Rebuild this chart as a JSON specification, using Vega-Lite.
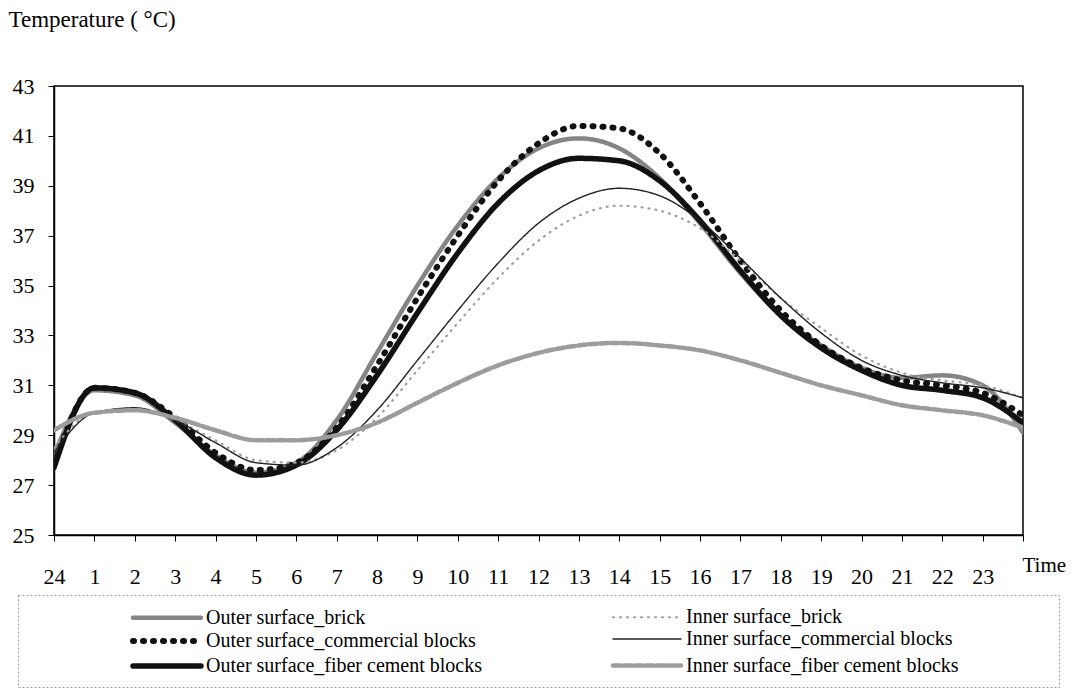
{
  "$schema": "https://vega.github.io/schema/vega-lite/v6.json",
  "width": 969,
  "height": 449,
  "autosize": {"type": "none"},
  "padding": {"left": 54, "top": 86, "right": 51, "bottom": 162},
  "background": "white",
  "config": {
    "font": "Liberation Serif",
    "view": {"stroke": "black", "strokeWidth": 1.5},
    "axis": {"grid": false, "domainColor": "black", "domainWidth": 1.5, "tickColor": "black", "labelColor": "black", "titleColor": "black", "labelFont": "Liberation Serif", "titleFont": "Liberation Serif", "labelFontSize": 22, "titleFontSize": 23, "titleFontWeight": "normal"}
  },
  "data": {"values": [
    {"h":0,"s":"Outer surface_brick","t":28.2},{"h":1,"s":"Outer surface_brick","t":30.8},{"h":2,"s":"Outer surface_brick","t":30.6},{"h":3,"s":"Outer surface_brick","t":29.5},{"h":4,"s":"Outer surface_brick","t":28.2},{"h":5,"s":"Outer surface_brick","t":27.5},{"h":6,"s":"Outer surface_brick","t":27.9},{"h":7,"s":"Outer surface_brick","t":29.6},{"h":8,"s":"Outer surface_brick","t":32.3},{"h":9,"s":"Outer surface_brick","t":35.0},{"h":10,"s":"Outer surface_brick","t":37.4},{"h":11,"s":"Outer surface_brick","t":39.3},{"h":12,"s":"Outer surface_brick","t":40.5},{"h":13,"s":"Outer surface_brick","t":40.9},{"h":14,"s":"Outer surface_brick","t":40.5},{"h":15,"s":"Outer surface_brick","t":39.3},{"h":16,"s":"Outer surface_brick","t":37.5},{"h":17,"s":"Outer surface_brick","t":35.5},{"h":18,"s":"Outer surface_brick","t":33.8},{"h":19,"s":"Outer surface_brick","t":32.6},{"h":20,"s":"Outer surface_brick","t":31.7},{"h":21,"s":"Outer surface_brick","t":31.3},{"h":22,"s":"Outer surface_brick","t":31.4},{"h":23,"s":"Outer surface_brick","t":31.0},{"h":24,"s":"Outer surface_brick","t":29.1},
    {"h":0,"s":"Outer surface_commercial blocks","t":27.8},{"h":1,"s":"Outer surface_commercial blocks","t":30.9},{"h":2,"s":"Outer surface_commercial blocks","t":30.7},{"h":3,"s":"Outer surface_commercial blocks","t":29.7},{"h":4,"s":"Outer surface_commercial blocks","t":28.3},{"h":5,"s":"Outer surface_commercial blocks","t":27.6},{"h":6,"s":"Outer surface_commercial blocks","t":27.9},{"h":7,"s":"Outer surface_commercial blocks","t":29.3},{"h":8,"s":"Outer surface_commercial blocks","t":31.8},{"h":9,"s":"Outer surface_commercial blocks","t":34.5},{"h":10,"s":"Outer surface_commercial blocks","t":37.0},{"h":11,"s":"Outer surface_commercial blocks","t":39.2},{"h":12,"s":"Outer surface_commercial blocks","t":40.7},{"h":13,"s":"Outer surface_commercial blocks","t":41.4},{"h":14,"s":"Outer surface_commercial blocks","t":41.3},{"h":15,"s":"Outer surface_commercial blocks","t":40.3},{"h":16,"s":"Outer surface_commercial blocks","t":38.3},{"h":17,"s":"Outer surface_commercial blocks","t":36.0},{"h":18,"s":"Outer surface_commercial blocks","t":34.0},{"h":19,"s":"Outer surface_commercial blocks","t":32.6},{"h":20,"s":"Outer surface_commercial blocks","t":31.7},{"h":21,"s":"Outer surface_commercial blocks","t":31.2},{"h":22,"s":"Outer surface_commercial blocks","t":31.0},{"h":23,"s":"Outer surface_commercial blocks","t":30.7},{"h":24,"s":"Outer surface_commercial blocks","t":29.8},
    {"h":0,"s":"Outer surface_fiber cement blocks","t":27.7},{"h":1,"s":"Outer surface_fiber cement blocks","t":30.9},{"h":2,"s":"Outer surface_fiber cement blocks","t":30.7},{"h":3,"s":"Outer surface_fiber cement blocks","t":29.6},{"h":4,"s":"Outer surface_fiber cement blocks","t":28.1},{"h":5,"s":"Outer surface_fiber cement blocks","t":27.4},{"h":6,"s":"Outer surface_fiber cement blocks","t":27.8},{"h":7,"s":"Outer surface_fiber cement blocks","t":29.2},{"h":8,"s":"Outer surface_fiber cement blocks","t":31.4},{"h":9,"s":"Outer surface_fiber cement blocks","t":33.9},{"h":10,"s":"Outer surface_fiber cement blocks","t":36.3},{"h":11,"s":"Outer surface_fiber cement blocks","t":38.3},{"h":12,"s":"Outer surface_fiber cement blocks","t":39.6},{"h":13,"s":"Outer surface_fiber cement blocks","t":40.1},{"h":14,"s":"Outer surface_fiber cement blocks","t":40.0},{"h":15,"s":"Outer surface_fiber cement blocks","t":39.2},{"h":16,"s":"Outer surface_fiber cement blocks","t":37.6},{"h":17,"s":"Outer surface_fiber cement blocks","t":35.6},{"h":18,"s":"Outer surface_fiber cement blocks","t":33.8},{"h":19,"s":"Outer surface_fiber cement blocks","t":32.5},{"h":20,"s":"Outer surface_fiber cement blocks","t":31.6},{"h":21,"s":"Outer surface_fiber cement blocks","t":31.0},{"h":22,"s":"Outer surface_fiber cement blocks","t":30.8},{"h":23,"s":"Outer surface_fiber cement blocks","t":30.5},{"h":24,"s":"Outer surface_fiber cement blocks","t":29.5},
    {"h":0,"s":"Inner surface_brick","t":28.5},{"h":1,"s":"Inner surface_brick","t":29.9},{"h":2,"s":"Inner surface_brick","t":30.0},{"h":3,"s":"Inner surface_brick","t":29.6},{"h":4,"s":"Inner surface_brick","t":28.8},{"h":5,"s":"Inner surface_brick","t":28.0},{"h":6,"s":"Inner surface_brick","t":27.9},{"h":7,"s":"Inner surface_brick","t":28.4},{"h":8,"s":"Inner surface_brick","t":29.7},{"h":9,"s":"Inner surface_brick","t":31.6},{"h":10,"s":"Inner surface_brick","t":33.5},{"h":11,"s":"Inner surface_brick","t":35.3},{"h":12,"s":"Inner surface_brick","t":36.8},{"h":13,"s":"Inner surface_brick","t":37.8},{"h":14,"s":"Inner surface_brick","t":38.2},{"h":15,"s":"Inner surface_brick","t":38.0},{"h":16,"s":"Inner surface_brick","t":37.3},{"h":17,"s":"Inner surface_brick","t":36.0},{"h":18,"s":"Inner surface_brick","t":34.5},{"h":19,"s":"Inner surface_brick","t":33.3},{"h":20,"s":"Inner surface_brick","t":32.2},{"h":21,"s":"Inner surface_brick","t":31.5},{"h":22,"s":"Inner surface_brick","t":31.2},{"h":23,"s":"Inner surface_brick","t":31.0},{"h":24,"s":"Inner surface_brick","t":30.5},
    {"h":0,"s":"Inner surface_commercial blocks","t":28.3},{"h":1,"s":"Inner surface_commercial blocks","t":29.9},{"h":2,"s":"Inner surface_commercial blocks","t":30.1},{"h":3,"s":"Inner surface_commercial blocks","t":29.6},{"h":4,"s":"Inner surface_commercial blocks","t":28.7},{"h":5,"s":"Inner surface_commercial blocks","t":27.9},{"h":6,"s":"Inner surface_commercial blocks","t":27.8},{"h":7,"s":"Inner surface_commercial blocks","t":28.5},{"h":8,"s":"Inner surface_commercial blocks","t":30.0},{"h":9,"s":"Inner surface_commercial blocks","t":32.0},{"h":10,"s":"Inner surface_commercial blocks","t":34.0},{"h":11,"s":"Inner surface_commercial blocks","t":35.9},{"h":12,"s":"Inner surface_commercial blocks","t":37.5},{"h":13,"s":"Inner surface_commercial blocks","t":38.5},{"h":14,"s":"Inner surface_commercial blocks","t":38.9},{"h":15,"s":"Inner surface_commercial blocks","t":38.6},{"h":16,"s":"Inner surface_commercial blocks","t":37.6},{"h":17,"s":"Inner surface_commercial blocks","t":36.1},{"h":18,"s":"Inner surface_commercial blocks","t":34.5},{"h":19,"s":"Inner surface_commercial blocks","t":33.1},{"h":20,"s":"Inner surface_commercial blocks","t":32.0},{"h":21,"s":"Inner surface_commercial blocks","t":31.4},{"h":22,"s":"Inner surface_commercial blocks","t":31.1},{"h":23,"s":"Inner surface_commercial blocks","t":30.9},{"h":24,"s":"Inner surface_commercial blocks","t":30.5},
    {"h":0,"s":"Inner surface_fiber cement blocks","t":29.2},{"h":1,"s":"Inner surface_fiber cement blocks","t":29.9},{"h":2,"s":"Inner surface_fiber cement blocks","t":30.0},{"h":3,"s":"Inner surface_fiber cement blocks","t":29.7},{"h":4,"s":"Inner surface_fiber cement blocks","t":29.2},{"h":5,"s":"Inner surface_fiber cement blocks","t":28.8},{"h":6,"s":"Inner surface_fiber cement blocks","t":28.8},{"h":7,"s":"Inner surface_fiber cement blocks","t":29.0},{"h":8,"s":"Inner surface_fiber cement blocks","t":29.5},{"h":9,"s":"Inner surface_fiber cement blocks","t":30.3},{"h":10,"s":"Inner surface_fiber cement blocks","t":31.1},{"h":11,"s":"Inner surface_fiber cement blocks","t":31.8},{"h":12,"s":"Inner surface_fiber cement blocks","t":32.3},{"h":13,"s":"Inner surface_fiber cement blocks","t":32.6},{"h":14,"s":"Inner surface_fiber cement blocks","t":32.7},{"h":15,"s":"Inner surface_fiber cement blocks","t":32.6},{"h":16,"s":"Inner surface_fiber cement blocks","t":32.4},{"h":17,"s":"Inner surface_fiber cement blocks","t":32.0},{"h":18,"s":"Inner surface_fiber cement blocks","t":31.5},{"h":19,"s":"Inner surface_fiber cement blocks","t":31.0},{"h":20,"s":"Inner surface_fiber cement blocks","t":30.6},{"h":21,"s":"Inner surface_fiber cement blocks","t":30.2},{"h":22,"s":"Inner surface_fiber cement blocks","t":30.0},{"h":23,"s":"Inner surface_fiber cement blocks","t":29.8},{"h":24,"s":"Inner surface_fiber cement blocks","t":29.3}
  ]},
  "mark": {"type": "line", "interpolate": "monotone", "clip": true, "strokeCap": "round"},
  "encoding": {
    "x": {"field": "h", "type": "quantitative",
      "scale": {"domain": [0, 24], "nice": false},
      "axis": {"values": [0,1,2,3,4,5,6,7,8,9,10,11,12,13,14,15,16,17,18,19,20,21,22,23,24],
        "labelExpr": "datum.value == 0 ? '24' : datum.value == 24 ? '' : datum.label",
        "tickSize": 6, "labelPadding": 25, "labelDx": 3, "labelFlush": false, "labelOverlap": false,
        "title": "Time", "titleX": 968, "titleY": 30, "titleAlign": "left", "titleBaseline": "middle", "titleAngle": 0, "titleFontSize": 21}},
    "y": {"field": "t", "type": "quantitative",
      "scale": {"domain": [25, 43], "nice": false, "zero": false},
      "axis": {"values": [25,27,29,31,33,35,37,39,41,43], "tickSize": 6, "labelPadding": 14,
        "title": "Temperature ( °C)", "titleAngle": 0, "titleX": -46, "titleY": -60, "titleAlign": "left", "titleBaseline": "alphabetic"}},
    "color": {"field": "s", "type": "nominal",
      "scale": {"domain": ["Outer surface_brick", "Outer surface_commercial blocks", "Outer surface_fiber cement blocks", "Inner surface_brick", "Inner surface_commercial blocks", "Inner surface_fiber cement blocks"],
        "range": ["#858585", "#111111", "#111111", "#a0a0a0", "#222222", "#9c9c9c"]},
      "legend": {"title": null, "orient": "none", "legendX": -36, "legendY": 509, "columns": 2, "columnPadding": 26,
        "symbolType": "M-3.4,0H3.4", "symbolSize": 400, "symbolOffset": 126, "labelOffset": 26,
        "labelFontSize": 20, "labelFont": "Liberation Serif", "labelColor": "black",
        "rowPadding": 0, "padding": 10, "strokeColor": "#9a9a9a", "labelLimit": 700,
        "labelExpr": "indexof(datum.label, 'Inner') == 0 ? datum.label + '\u00a0\u00a0\u00a0\u00a0\u00a0\u00a0\u00a0\u00a0\u00a0\u00a0\u00a0\u00a0\u00a0\u00a0\u00a0\u00a0\u00a0\u00a0\u200b' : datum.label",
        "encode": {"symbols": {"update": {"strokeCap": {"value": "round"}}}, "legend": {"update": {"strokeDash": {"value": [2, 2]}}}}}},
    "strokeDash": {"field": "s", "type": "nominal",
      "scale": {"domain": ["Outer surface_brick", "Outer surface_commercial blocks", "Outer surface_fiber cement blocks", "Inner surface_brick", "Inner surface_commercial blocks", "Inner surface_fiber cement blocks"],
        "range": [[1,0], [1,9], [1,0], [1,6], [1,0], [8,3]]}},
    "strokeWidth": {"field": "s", "type": "nominal",
      "scale": {"type": "ordinal", "domain": ["Outer surface_brick", "Outer surface_commercial blocks", "Outer surface_fiber cement blocks", "Inner surface_brick", "Inner surface_commercial blocks", "Inner surface_fiber cement blocks"],
        "range": [4.5, 6, 5.5, 2.2, 1.4, 4.5]}}
  }
}
